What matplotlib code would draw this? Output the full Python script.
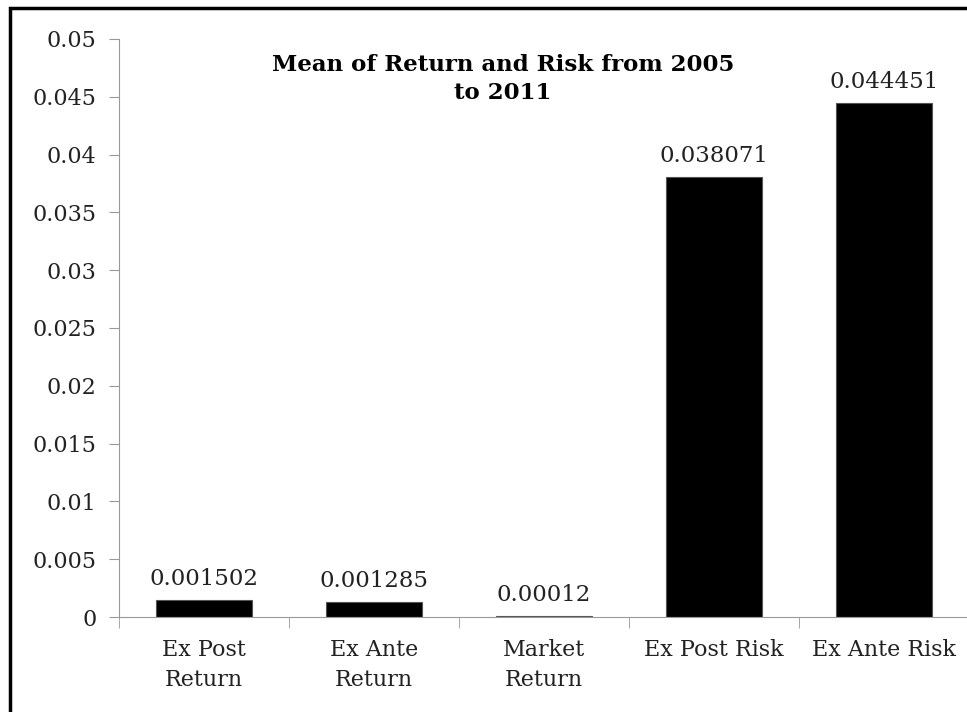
import numpy as np
import matplotlib.pyplot as plt
from matplotlib.patches import Rectangle

# data
categories = ["Ex Post\nReturn", "Ex Ante\nReturn", "Market\nReturn", "Ex Post Risk", "Ex Ante Risk"]
values = [0.001502, 0.001285, 0.00012, 0.038071, 0.044451]
value_labels = ["0.001502", "0.001285", "0.00012", "0.038071", "0.044451"]
y_ticks = [0, 0.005, 0.01, 0.015, 0.02, 0.025, 0.03, 0.035, 0.04, 0.045, 0.05]
y_tick_labels = ["0", "0.005", "0.01", "0.015", "0.02", "0.025", "0.03", "0.035", "0.04", "0.045", "0.05"]

plt.rcParams['font.family'] = ['DejaVu Serif']

fig = plt.figure(figsize=(9.67, 7.12), dpi=100)
ax = fig.add_axes([0.123, 0.1334, 0.879, 0.812])

x = np.arange(len(categories))
ax.bar(x, values, width=0.56, color="black", edgecolor="#555555", linewidth=0.8)

for xi, v, lab in zip(x, values, value_labels):
    ax.annotate(lab, (xi, v), xytext=(0, 7), textcoords="offset points",
                ha="center", va="bottom", fontsize=16.5, color="#222222")

ax.set_xlim(-0.5, len(categories) - 0.5)
ax.set_ylim(0, 0.05)
ax.set_yticks(y_ticks)
ax.set_yticklabels(y_tick_labels, fontsize=16, color="#222222")

# category labels centred, ticks at category boundaries
ax.set_xticks(x)
ax.set_xticklabels(categories, fontsize=16, color="#222222", linespacing=1.45)
ax.tick_params(axis="x", length=0, pad=16)
ax.set_xticks(np.arange(len(categories)) - 0.5, minor=True)
ax.tick_params(axis="x", which="minor", length=8, color="#999999")
ax.tick_params(axis="y", length=7, color="#999999", pad=9)

for s in ["top", "right"]:
    ax.spines[s].set_visible(False)
ax.spines["left"].set_color("#999999")
ax.spines["bottom"].set_color("#999999")

ax.text(0.452, 0.93, "Mean of Return and Risk from 2005\nto 2011", transform=ax.transAxes,
        ha="center", va="center", fontsize=16.5, fontweight="bold", linespacing=1.35)

# frame round the chart
fig.patches.append(Rectangle((10 / 967, -0.01), 1.05, 1 - 8 / 712 + 0.01, transform=fig.transFigure,
                             fill=False, edgecolor="black", linewidth=2.5))

fig.savefig("out.png", dpi=100)
